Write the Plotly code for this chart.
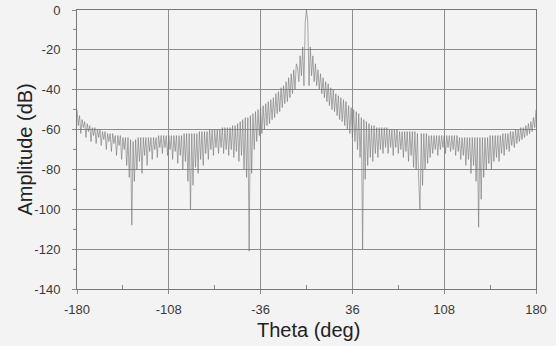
import plotly.graph_objects as go

# Sample angles (deg), 1-degree spacing
theta_deg = list(range(-180, 181))

# Amplitude (dB), one value per degree
amp_left = [
    -50, -58, -53, -62, -55, -59, -56, -64, -57, -61,   # -180..-171
    -58, -66, -59, -63, -59, -67, -60, -64, -60, -68,   # -170..-161
    -61, -65, -61, -70, -62, -66, -62, -71, -62, -67,   # -160..-151
    -63, -73, -63, -68, -63, -75, -64, -70, -64, -78,   # -150..-141
    -64, -84, -65, -108, -66, -86, -65, -80, -64, -76,  # -140..-131
    -64, -82, -64, -73, -64, -78, -64, -71, -64, -75,   # -130..-121
    -64, -70, -64, -74, -63, -69, -63, -72, -63, -69,   # -120..-111
    -63, -73, -63, -70, -63, -75, -63, -71, -63, -77,   # -110..-101
    -63, -73, -63, -80, -62, -76, -62, -86, -62, -100,  # -100..-91
    -62, -88, -62, -79, -62, -82, -61, -75, -61, -78,   # -90..-81
    -61, -72, -61, -75, -60, -70, -60, -73, -60, -69,   # -80..-71
    -60, -72, -60, -69, -59, -72, -59, -70, -59, -73,   # -70..-61
    -59, -70, -58, -74, -58, -71, -57, -76, -56, -73,   # -60..-51
    -55, -80, -54, -84, -54, -121, -53, -82, -52, -70,  # -50..-41
    -51, -66, -50, -63, -49, -62, -48, -60, -47, -58,   # -40..-31
    -46, -57, -45, -55, -44, -54, -42, -52, -41, -51,   # -30..-21
    -39, -49, -38, -47, -36, -46, -34, -44, -32, -42,   # -20..-11
    -30, -40, -27, -29, -36, -23, -33, -18.5, -38, -6,  # -10..-1
    0,                                                  # 0
]
amp_right = [
    -6, -38, -18.5, -33, -23, -36, -27, -38, -30, -40,  # 1..10
    -32, -42, -34, -44, -36, -46, -37, -48, -39, -50,   # 11..20
    -40, -51, -42, -53, -43, -55, -44, -56, -45, -58,   # 21..30
    -46, -60, -48, -62, -49, -64, -50, -66, -51, -70,   # 31..40
    -52, -74, -54, -120, -55, -85, -56, -78, -57, -74,  # 41..50
    -58, -76, -58, -72, -59, -74, -59, -70, -59, -72,   # 51..60
    -59, -69, -59, -72, -60, -69, -60, -73, -60, -69,   # 61..70
    -60, -72, -61, -70, -61, -74, -61, -71, -61, -76,   # 71..80
    -61, -73, -61, -79, -61, -80, -62, -86, -100, -62,  # 81..90
    -88, -62, -80, -62, -77, -63, -74, -63, -72, -63,   # 91..100
    -70, -63, -73, -63, -70, -63, -69, -63, -72, -63,   # 101..110
    -69, -63, -71, -63, -70, -63, -73, -63, -71, -64,   # 111..120
    -75, -64, -73, -64, -78, -64, -75, -64, -82, -64,   # 121..130
    -78, -64, -86, -64, -109, -64, -95, -64, -84, -64,  # 131..140
    -80, -64, -77, -63, -80, -63, -76, -63, -74, -63,   # 141..150
    -76, -63, -72, -62, -73, -62, -70, -62, -71, -61,   # 151..160
    -68, -61, -69, -60, -67, -60, -66, -59, -65, -59,   # 161..170
    -64, -58, -63, -57, -62, -56, -61, -54, -59, -50,   # 171..180
]
amplitude_db = amp_left + amp_right

x_ticks = [-180, -108, -36, 36, 108, 180]
x_minor = [-144, -72, 0, 72, 144]
y_ticks = [0, -20, -40, -60, -80, -100, -120, -140]
y_minor = [-10, -30, -50, -70, -90, -110, -130]

fig = go.Figure()
fig.add_trace(go.Scatter(
    x=theta_deg, y=amplitude_db, mode="lines",
    line=dict(color="#747474", width=0.6),
    showlegend=False, hoverinfo="skip",
))

bg = "#f3f3f3"
grid = "#8c8c8c"
font = "Liberation Sans, Arial, sans-serif"

fig.update_layout(
    width=556, height=346,
    margin=dict(l=77, r=20, t=10, b=57),
    paper_bgcolor=bg, plot_bgcolor=bg,
    font=dict(family=font, color="#333333"),
    annotations=[
        dict(text="Theta (deg)", xref="paper", yref="paper", x=0.505, y=0,
             yshift=-41, xanchor="center", yanchor="middle", showarrow=False,
             font=dict(size=20, color="#222222")),
        dict(text="Amplitude (dB)", xref="paper", yref="paper", x=0, y=0.5,
             xshift=-53, xanchor="center", yanchor="middle", showarrow=False,
             textangle=-90, font=dict(size=20, color="#222222")),
    ],
)
fig.update_xaxes(
    range=[-180, 180], tickvals=x_ticks, ticktext=[str(v) for v in x_ticks],
    tickfont=dict(size=13, color="#3a3a3a"),
    showgrid=True, gridcolor=grid, gridwidth=1,
    zeroline=False, automargin=False,
    showline=True, linecolor="#777777", linewidth=1, mirror=True,
    ticks="outside", ticklen=4, tickcolor="#888888", ticklabelstandoff=4,
    minor=dict(tickvals=x_minor, ticks="inside", ticklen=4,
               tickcolor="#888888", showgrid=False),
)
fig.update_yaxes(
    range=[-140, 0], tickvals=y_ticks, ticktext=[str(v) for v in y_ticks],
    tickfont=dict(size=13, color="#3a3a3a"),
    showgrid=True, gridcolor=grid, gridwidth=1,
    zeroline=False, automargin=False,
    showline=True, linecolor="#777777", linewidth=1, mirror=True,
    ticks="outside", ticklen=4, tickcolor="#888888", ticklabelstandoff=9,
    minor=dict(tickvals=y_minor, ticks="outside",
               ticklen=3, tickcolor="#888888", showgrid=False),
)

fig.write_html("out.html", config={"displayModeBar": False},
               post_script="document.body.style.margin='0';")
